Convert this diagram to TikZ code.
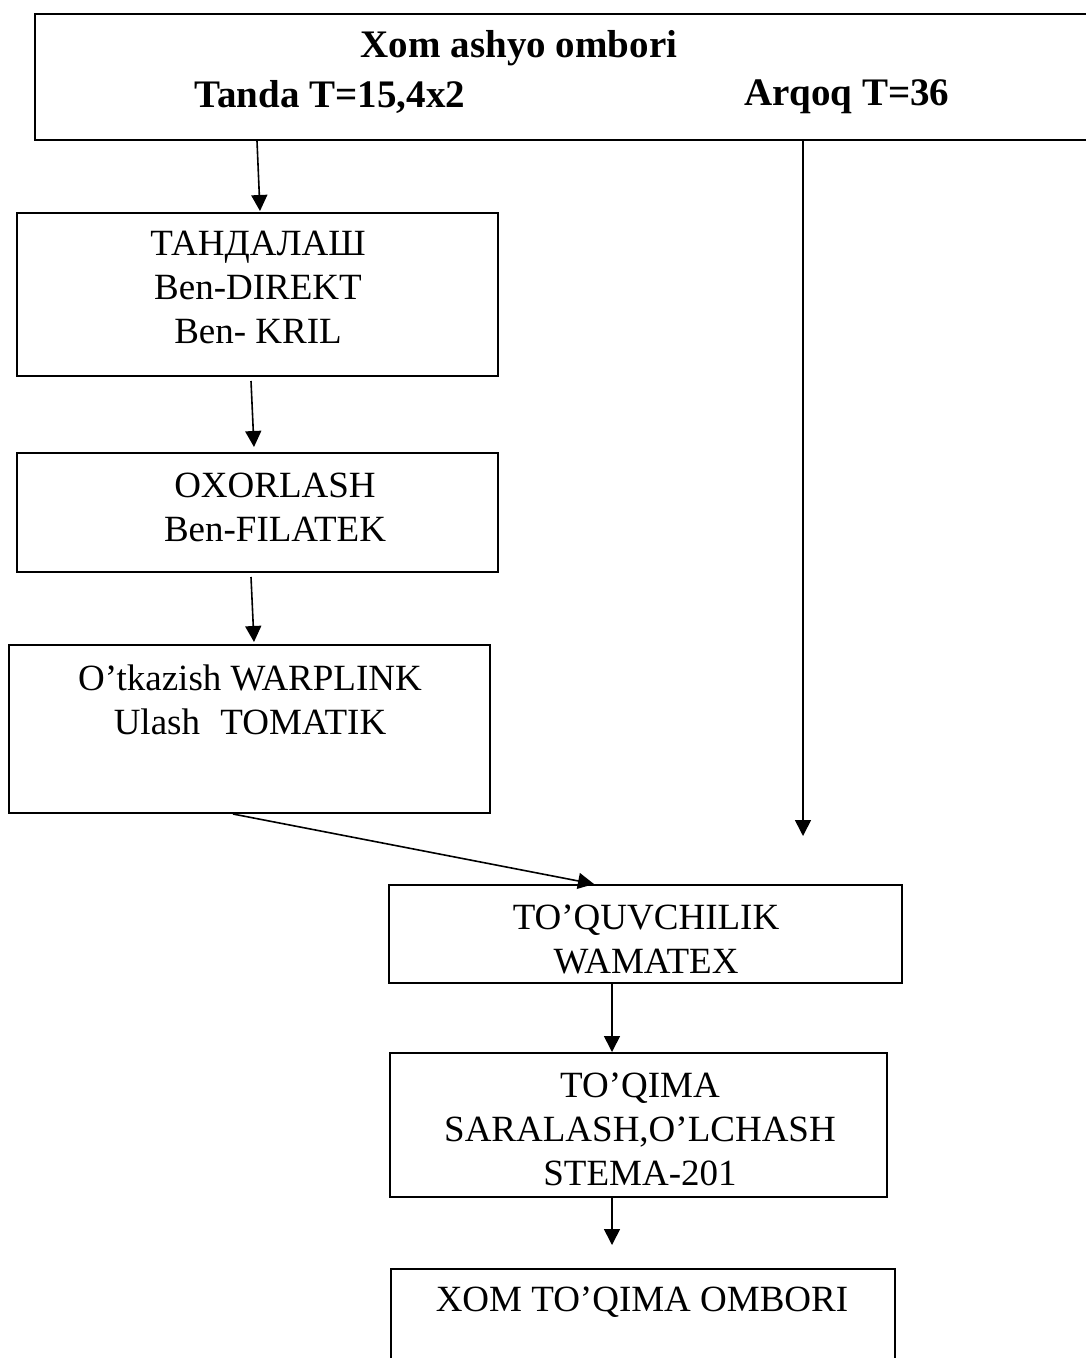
\documentclass[tikz,border=0pt]{standalone}
\usepackage{fontspec}
\setmainfont{Liberation Serif}
\usetikzlibrary{arrows.meta,calc}
\begin{document}
\begin{tikzpicture}[x=1pt,y=1pt,
  box/.style={draw,line width=2pt,inner sep=0pt},
  txt/.style={font=\fontsize{37}{44}\selectfont,align=center,inner sep=0pt},
  hdr/.style={font=\fontsize{39}{44}\selectfont\bfseries,inner sep=0pt},
  arr/.style={line width=1.6pt,-{Triangle[length=16pt,width=16pt]}}]
\useasboundingbox (0,0) rectangle (1085,-1358);
% boxes
\node[box,minimum width=1065pt,minimum height=126pt] (top) at (567.5,-77) {};
\node[box,minimum width=481pt,minimum height=163pt] (box1) at (257.5,-294.5) {};
\node[box,minimum width=481pt,minimum height=119pt] (box2) at (257.5,-512.5) {};
\node[box,minimum width=481pt,minimum height=168pt] (box3) at (249.5,-729) {};
\node[box,minimum width=513pt,minimum height=98pt] (box4) at (645.5,-934) {};
\node[box,minimum width=497pt,minimum height=144pt] (box5) at (638.5,-1125) {};
\node[box,minimum width=504pt,minimum height=111pt] (box6) at (643,-1324.5) {};
% texts
\node[hdr] (h1) at (519,-48) {Xom ashyo ombori};
\node[hdr] (h2) at (330,-97) {Tanda T=15,4x2};
\node[hdr] (h3) at (847,-97) {Arqoq T=36};
\node[txt] (t1) at (258,-287) {ТАНДАЛАШ\\Ben-DIREKT\\Ben- KRIL};
\node[txt] (t2) at (275,-507) {OXORLASH\\Ben-FILATEK};
\node[txt] (t3) at (250,-700) {O’tkazish WARPLINK\\Ulash\hspace{0.55em}TOMATIK};
\node[txt] (t4) at (646,-939) {TO’QUVCHILIK\\WAMATEX};
\node[txt] (t5) at (640,-1129) {TO’QIMA\\SARALASH,O’LCHASH\\STEMA-201};
\node[txt] (t6) at (642,-1302) {XOM TO’QIMA OMBORI};
% coordinates
\coordinate (rt) at (803,-836);
\coordinate (c4) at (612,-1000);
\coordinate (end5) at (612,-1245);
% connectors
\draw[arr] ($(top.south)+(-310.5,0)$) -- ($(box1.north)+(2.5,1)$);
\draw[arr] ($(box1.south)+(-6.5,-4)$) -- ($(box2.north)+(-3.5,5)$);
\draw[arr] ($(box2.south)+(-6.5,-4)$) -- ($(box3.north)+(4.5,2)$);
\draw[arr] (top.south -| rt) -- (rt);
\draw[arr] ($(box3.south)+(-16.5,0)$) -- ($(box4.north)+(-51.5,0)$);
\draw[arr] (box4.south -| c4) -- (box5.north -| c4);
\draw[arr] (box5.south -| c4) -- (end5);
\end{tikzpicture}
\end{document}
